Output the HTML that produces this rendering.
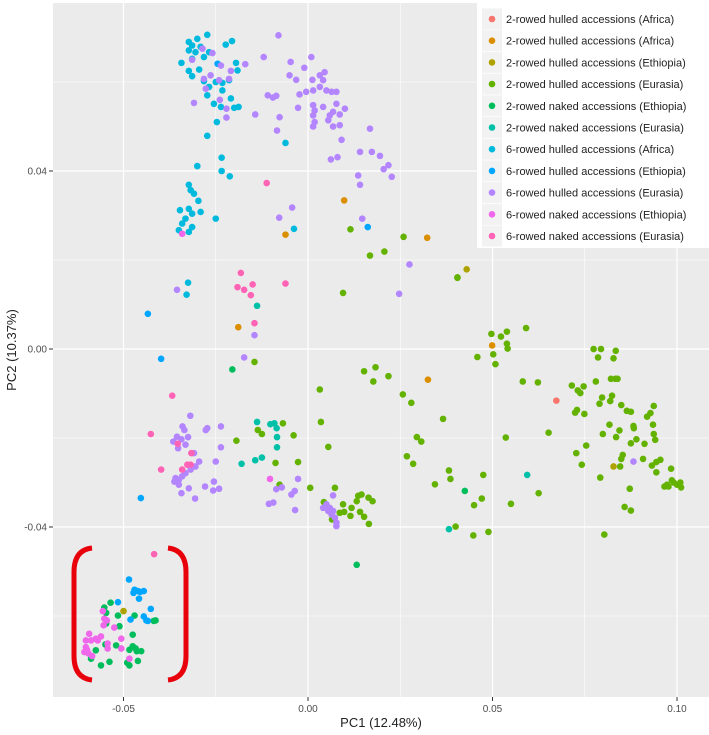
<!DOCTYPE html>
<html><head><meta charset="utf-8"><style>
html,body{margin:0;padding:0;background:#fff;}
svg{display:block;font-family:"Liberation Sans",sans-serif;}
</style></head><body>
<svg id="chart" width="709" height="735" viewBox="0 0 709 735" xmlns="http://www.w3.org/2000/svg">
<rect x="53" y="3" width="656" height="694" fill="#EBEBEB"/>
<g id="grid"></g>
<g id="axes"></g>
<g id="points"></g>
<g fill="none" stroke="#E8000B" stroke-width="5" stroke-linecap="butt">
<path d="M92,548 Q74,550 74,572 L74,656 Q74,678 92,680"/>
<path d="M168,548 Q186,550 186,572 L186,656 Q186,678 168,680"/>
</g>
<text transform="translate(16,350) rotate(-90)" text-anchor="middle" font-size="13" fill="#222">PC2 (10.37%)</text>
<text x="381" y="727" text-anchor="middle" font-size="13" fill="#222">PC1 (12.48%)</text>
<g id="legend"></g>
</svg>
<script>
const xTicks=[-0.05,0,0.05,0.10];
const xTickLabels=["-0.05","0.00","0.05","0.10"];
const xMinor=[-0.025,0.025,0.075];
const yTicks=[0.04,0,-0.04];
const yTickLabels=["0.04","0.00","-0.04"];
const yMinor=[0.06,0.02,-0.02,-0.06];
const seriesNames=["2-rowed hulled accessions  (Africa)","2-rowed hulled accessions (Africa)","2-rowed hulled accessions (Ethiopia)","2-rowed hulled accessions (Eurasia)","2-rowed naked accessions (Ethiopia)","2-rowed naked accessions (Eurasia)","6-rowed hulled accessions (Africa)","6-rowed hulled accessions (Ethiopia)","6-rowed hulled accessions (Eurasia)","6-rowed naked accessions (Ethiopia)","6-rowed naked accessions (Eurasia)"];
const seriesColors=["#F8766D","#DB8E00","#AEA200","#64B200","#00BD5C","#00C1A7","#00BADE","#00A6FF","#B385FF","#EF67EB","#FF63B6"];
const s1=[[0.0673,-0.0116]];
const s2=[[0.0098,0.0334],[-0.0061,0.0257],[0.0323,0.0250],[0.0499,0.0008],[0.0325,-0.0069],[-0.0189,0.0049]];
const s3=[[0.0430,0.0179],[0.0828,-0.0264],[-0.0500,-0.0589]];
const s4=[[0.0115,0.0269],[0.0259,0.0252],[0.0207,0.0219],[0.0168,0.0210],[0.0405,0.0160],[0.0095,0.0126],[0.0405,0.0161],
[0.0497,0.0034],[0.0523,0.0028],[0.0539,0.0039],[0.0591,0.0047],[0.0539,0.0012],[0.0541,0.0001],[0.0459,-0.0018],[0.0502,-0.0012],[0.0508,-0.0034],[0.0582,-0.0073],[0.0623,-0.0075],
[0.0152,-0.0050],[0.0183,-0.0041],[0.0177,-0.0073],[0.0218,-0.0061],[0.0032,-0.0091],[0.0257,-0.0102],[0.0280,-0.0121],[0.0366,-0.0157],[0.0035,-0.0164],[-0.0039,-0.0194],[0.0295,-0.0198],[0.0307,-0.0208],[0.0536,-0.0199],[0.0055,-0.0220],[-0.0027,-0.0254],[0.0268,-0.0241],[0.0285,-0.0258],[0.0382,-0.0273],[0.0386,-0.0292],[0.0475,-0.0283],[0.0344,-0.0304],[0.0625,-0.0324],[0.0471,-0.0336],[0.0450,-0.0351],[0.0550,-0.0348],[0.0400,-0.0399],[0.0448,-0.0419],[0.0489,-0.0411],[0.0006,-0.0312],[0.0073,-0.0312],
[0.0095,-0.0349],[0.0098,-0.0366],[0.0118,-0.0357],[0.0132,-0.0342],[0.0136,-0.0330],[0.0145,-0.0327],[0.0164,-0.0334],[0.0175,-0.0342],[0.0141,-0.0366],[0.0152,-0.0377],[0.0165,-0.0393],[0.0115,-0.0375],[0.0065,-0.0383],[0.0043,-0.0344],[0.0086,-0.0368],
[0.0652,-0.0188],[0.0715,-0.0082],[0.0731,-0.0093],[0.0738,-0.0099],[0.0747,-0.0084],[0.0729,-0.0137],[0.0724,-0.0143],[0.0749,-0.0146],[0.0727,-0.0234],[0.0754,-0.0217],[0.0742,-0.0260],[0.0774,0.0000],[0.0794,0.0000],[0.0786,-0.0019],[0.0834,-0.0004],[0.0828,-0.0021],[0.0780,-0.0073],[0.0821,-0.0067],[0.0833,-0.0067],[0.0839,-0.0067],[0.0797,-0.0109],[0.0824,-0.0105],[0.0790,-0.0123],[0.0819,-0.0117],[0.0849,-0.0126],[0.0864,-0.0139],[0.0875,-0.0141],[0.0817,-0.0170],[0.0882,-0.0173],[0.0883,-0.0178],[0.0799,-0.0191],[0.0835,-0.0198],[0.0844,-0.0183],[0.0875,-0.0212],[0.0890,-0.0203],[0.0912,-0.0213],[0.0853,-0.0238],[0.0849,-0.0247],[0.0846,-0.0264],[0.0792,-0.0289],[0.0872,-0.0314],[0.0858,-0.0355],[0.0875,-0.0363],[0.0803,-0.0417],[0.0908,-0.0247],[0.0932,-0.0262],[0.0944,-0.0254],[0.0955,-0.0249],[0.0944,-0.0277],[0.0984,-0.0269],[0.0935,-0.0170],[0.0937,-0.0191],[0.0941,-0.0204],[0.0919,-0.0152],[0.0928,-0.0144],[0.0937,-0.0128],[0.0966,-0.0309],[0.0977,-0.0309],[0.0986,-0.0295],[0.0991,-0.0300],[0.1000,-0.0305],[0.1009,-0.0300],[0.1011,-0.0311],[0.0973,-0.0305],
[-0.0145,-0.0029],[-0.0068,-0.0167],[-0.0136,-0.0182],[-0.0125,-0.0191],[-0.0194,-0.0206],[-0.0088,-0.0256],[-0.0077,-0.0305]];
const s5=[[-0.0205,-0.0046],[0.0425,-0.0319],[0.0132,-0.0485],[-0.0535,-0.0570],[-0.0552,-0.0581],[-0.0547,-0.0593],[-0.0515,-0.0599],[-0.0470,-0.0599],[-0.0418,-0.0611],[-0.0413,-0.0610],[-0.0511,-0.0623],[-0.0475,-0.0642],[-0.0549,-0.0664],[-0.0575,-0.0677],[-0.0520,-0.0666],[-0.0475,-0.0668],[-0.0467,-0.0673],[-0.0452,-0.0679],[-0.0484,-0.0676],[-0.0464,-0.0679],[-0.0561,-0.0711],[-0.0538,-0.0703],[-0.0490,-0.0705],[-0.0484,-0.0711],[-0.0461,-0.0701],[-0.0588,-0.0696],[-0.0547,-0.0617]];
const s6=[[-0.0138,0.0097],[0.0594,-0.0283],[0.0382,-0.0405],[-0.0138,-0.0164],[-0.0102,-0.0169],[-0.0091,-0.0167],[-0.0085,-0.0178],[-0.0084,-0.0198],[-0.0084,-0.0221],[-0.0125,-0.0244],[-0.0143,-0.0250],[-0.0180,-0.0258]];
const s7=[[-0.0273,0.0706],[-0.0300,0.0697],[-0.0323,0.0690],[-0.0314,0.0682],[-0.0291,0.0679],[-0.0323,0.0671],[-0.0305,0.0667],[-0.0268,0.0667],[-0.0282,0.0656],[-0.0314,0.0652],[-0.0343,0.0643],[-0.0295,0.0628],[-0.0323,0.0625],[-0.0314,0.0613],[-0.0282,0.0602],[-0.0250,0.0600],[-0.0268,0.0589],[-0.0232,0.0598],[-0.0232,0.0581],[-0.0273,0.0570],[-0.0214,0.0604],[-0.0209,0.0563],[-0.0236,0.0544],[-0.0255,0.0551],[-0.0200,0.0542],[-0.0188,0.0544],[-0.0195,0.0643],[-0.0191,0.0626],[-0.0223,0.0684],[-0.0206,0.0692],[-0.0247,0.0510],[-0.0273,0.0479],[-0.0234,0.0430],[-0.0234,0.0400],[-0.0212,0.0388],[-0.0300,0.0411],[-0.0250,0.0293],[-0.0323,0.0369],[-0.0318,0.0357],[-0.0309,0.0349],[-0.0297,0.0333],[-0.0347,0.0312],[-0.0323,0.0315],[-0.0314,0.0304],[-0.0291,0.0308],[-0.0332,0.0293],[-0.0341,0.0282],[-0.0314,0.0274],[-0.0350,0.0267],[-0.0323,0.0263],[-0.0325,0.0149],[-0.0329,0.0122],[-0.0061,0.0463],[-0.0038,0.0270]];
const s8=[[-0.0245,0.0641],[0.0162,0.0274],[-0.0434,0.0079],[-0.0398,-0.0022],[-0.0453,-0.0335],[-0.0485,-0.0518],[-0.0470,-0.0541],[-0.0461,-0.0544],[-0.0473,-0.0548],[-0.0445,-0.0544],[-0.0455,-0.0546],[-0.0458,-0.0561],[-0.0515,-0.0569],[-0.0426,-0.0584],[-0.0481,-0.0608],[-0.0445,-0.0601],[-0.0438,-0.0610],[-0.0434,-0.0611]];
const s9=[[-0.0080,0.0705],[-0.0120,0.0656],[-0.0047,0.0645],[0.0009,0.0656],[-0.0010,0.0632],[-0.0050,0.0615],[-0.0032,0.0605],[0.0012,0.0605],[0.0032,0.0615],[0.0041,0.0604],[0.0045,0.0622],[0.0032,0.0589],[0.0014,0.0581],[-0.0005,0.0578],[0.0050,0.0581],[0.0064,0.0578],[0.0077,0.0578],[-0.0023,0.0572],[-0.0109,0.0570],[-0.0095,0.0565],[-0.0086,0.0569],[0.0014,0.0548],[0.0018,0.0536],[0.0041,0.0544],[0.0077,0.0551],[0.0100,0.0540],[0.0068,0.0533],[0.0014,0.0525],[0.0059,0.0525],[0.0086,0.0527],[0.0018,0.0510],[0.0055,0.0514],[0.0014,0.0500],[0.0068,0.0500],[0.0086,0.0503],[0.0168,0.0495],[0.0091,0.0470],[-0.0027,0.0542],[-0.0143,0.0527],[-0.0077,0.0521],[-0.0084,0.0491],[0.0062,0.0426],[0.0080,0.0431],[0.0141,0.0443],[0.0173,0.0443],[0.0195,0.0434],[0.0218,0.0413],[0.0205,0.0404],[0.0227,0.0387],[0.0136,0.0390],[0.0141,0.0369],[-0.0043,0.0318],[-0.0078,0.0295],[0.0147,0.0293],[0.0275,0.0190],[0.0247,0.0124],[-0.0355,0.0133],[-0.0286,0.0675],[-0.0259,0.0665],[-0.0236,0.0637],[-0.0209,0.0625],[-0.0170,0.0640],[-0.0282,0.0607],[-0.0264,0.0615],[-0.0241,0.0604],[-0.0214,0.0607],[-0.0277,0.0585],[-0.0239,0.0560],[-0.0221,0.0540],[-0.0221,0.0520],[-0.0309,0.0553],[-0.0314,0.0650],
[0.0068,-0.0329],[0.0050,-0.0349],[0.0059,-0.0357],[0.0068,-0.0364],[0.0055,-0.0364],[0.0064,-0.0372],[0.0073,-0.0379],[0.0077,-0.0390],[0.0077,-0.0398],[0.0041,-0.0357],[-0.0027,-0.0292],[-0.0036,-0.0319],[-0.0045,-0.0327],[-0.0035,-0.0362],[0.0882,-0.0253],
[-0.0145,0.0031],[-0.0173,-0.0019],[-0.0319,-0.0150],[-0.0340,-0.0174],[-0.0335,-0.0182],[-0.0365,-0.0208],[-0.0355,-0.0197],[-0.0343,-0.0203],[-0.0325,-0.0198],[-0.0352,-0.0223],[-0.0332,-0.0215],[-0.0277,-0.0182],[-0.0273,-0.0178],[-0.0236,-0.0174],[-0.0236,-0.0221],[-0.0250,-0.0253],[-0.0309,-0.0234],[-0.0295,-0.0253],[-0.0305,-0.0264],[-0.0318,-0.0271],[-0.0332,-0.0279],[-0.0359,-0.0290],[-0.0350,-0.0294],[-0.0341,-0.0286],[-0.0362,-0.0298],[-0.0350,-0.0305],[-0.0343,-0.0324],[-0.0323,-0.0313],[-0.0306,-0.0336],[-0.0279,-0.0309],[-0.0255,-0.0298],[-0.0257,-0.0318],[-0.0241,-0.0314],[-0.0086,-0.0315],[-0.0071,-0.0311],[-0.0106,-0.0348],[-0.0094,-0.0345]];
const s10=[[-0.0341,0.0259],[-0.0103,-0.0292],[-0.0556,-0.0589],[-0.0552,-0.0606],[-0.0554,-0.0621],[-0.0545,-0.0610],[-0.0525,-0.0626],[-0.0561,-0.0646],[-0.0575,-0.0651],[-0.0593,-0.0640],[-0.0602,-0.0655],[-0.0588,-0.0655],[-0.0570,-0.0655],[-0.0543,-0.0662],[-0.0543,-0.0673],[-0.0506,-0.0651],[-0.0602,-0.0670],[-0.0606,-0.0681],[-0.0595,-0.0684],[-0.0585,-0.0690],[-0.0599,-0.0676],[-0.0484,-0.0696],[-0.0506,-0.0673]];
const s11=[[-0.0112,0.0373],[-0.0182,0.0171],[-0.0191,0.0139],[-0.0173,0.0133],[-0.0150,0.0145],[-0.0155,0.0121],[-0.0061,0.0147],[-0.0145,0.0058],[-0.0368,-0.0105],[-0.0426,-0.0191],[-0.0353,-0.0213],[-0.0316,-0.0234],[-0.0327,-0.0260],[-0.0318,-0.0260],[-0.0341,-0.0271],[-0.0398,-0.0271],[-0.0417,-0.0461]];
const allSeries=[s1,s2,s3,s4,s5,s6,s7,s8,s9,s10,s11];

const NS="http://www.w3.org/2000/svg";
const PL=53,PR=709,PT=3,PB=697;
function xScale(v){return 308+v*3690;}
function yScale(v){return 349-v*4450;}
function mk(tag,attrs,parent){const e=document.createElementNS(NS,tag);for(const k in attrs)e.setAttribute(k,attrs[k]);parent.appendChild(e);return e;}

const grid=document.getElementById('grid');
xMinor.forEach(v=>{const l=mk('line',{x1:xScale(v),x2:xScale(v),y1:PT,y2:PB,stroke:'#fff','stroke-width':0.6},grid);

});
yMinor.forEach(v=>{const l=mk('line',{x1:PL,x2:PR,y1:yScale(v),y2:yScale(v),stroke:'#fff','stroke-width':0.6},grid);

});
xTicks.forEach(v=>{const l=mk('line',{x1:xScale(v),x2:xScale(v),y1:PT,y2:PB,stroke:'#fff','stroke-width':1.2},grid);

});
yTicks.forEach(v=>{const l=mk('line',{x1:PL,x2:PR,y1:yScale(v),y2:yScale(v),stroke:'#fff','stroke-width':1.2},grid);

});

const axes=document.getElementById('axes');
xTicks.forEach((v,i)=>{const x=xScale(v);
const t=mk('line',{x1:x,x2:x,y1:PB,y2:PB+4,stroke:'#333','stroke-width':1},axes);


const tx=mk('text',{x:x,y:PB+15,'text-anchor':'middle','font-size':10,fill:'#4D4D4D'},axes);tx.textContent=xTickLabels[i];

});
yTicks.forEach((v,i)=>{const y=yScale(v);
const t=mk('line',{x1:PL-4,x2:PL,y1:y,y2:y,stroke:'#333','stroke-width':1},axes);


const tx=mk('text',{x:PL-6,y:y+3.5,'text-anchor':'end','font-size':10,fill:'#4D4D4D'},axes);tx.textContent=yTickLabels[i];

});

const pts=document.getElementById('points');
allSeries.forEach((s,si)=>{s.forEach(p=>{
const c=mk('circle',{cx:xScale(p[0]),cy:yScale(p[1]),r:3.3,fill:seriesColors[si]},pts);

});});

const lg=document.getElementById('legend');
const bg=mk('rect',{x:477,y:3,width:232,height:245,fill:'#fff'},lg);


seriesNames.forEach((n,i)=>{const y=19+i*21.7;
const k=mk('rect',{x:482,y:y-10.5,width:20,height:21,fill:'#F2F2F2'},lg);


const d=mk('circle',{cx:492,cy:y,r:3.3,fill:seriesColors[i]},lg);


const t=mk('text',{x:506,y:y+4,'font-size':11,fill:'#222'},lg);t.textContent=n;

});
</script>
</body></html>
